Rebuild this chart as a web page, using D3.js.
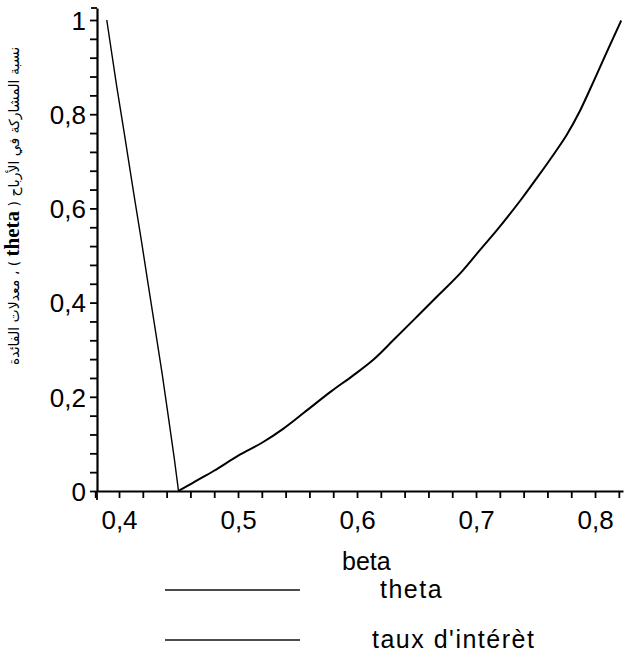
<!DOCTYPE html>
<html>
<head>
<meta charset="utf-8">
<script src="https://cdn.jsdelivr.net/npm/d3@7"></script>
<style>
  html, body { margin: 0; padding: 0; background: #fff; }
  svg { display: block; }
  .tick text { font-family: "Liberation Sans", Arial, sans-serif; }
</style>
</head>
<body>
<svg id="chart" width="634" height="656"></svg>
<script>
// theta (participation ratio) against beta
const thetaBeta = [0.3897, 0.3980, 0.4044, 0.4125, 0.4189, 0.4241, 0.4305, 0.4363, 0.4415, 0.4464, 0.4500];
const thetaVals = [1.000, 0.860, 0.760, 0.630, 0.530, 0.445, 0.342, 0.248, 0.157, 0.070, 0.0];

// interest rate against beta
const rateBeta = [0.4500, 0.4624, 0.4798, 0.5002, 0.5205, 0.5379, 0.5553, 0.5785, 0.5960, 0.6134,
                  0.6308, 0.6511, 0.6685, 0.6888, 0.7034, 0.7179, 0.7382, 0.7527, 0.7672, 0.7759,
                  0.7875, 0.7992, 0.8108, 0.8220];
const rateVals = [0.000, 0.018, 0.043, 0.075, 0.103, 0.132, 0.166, 0.212, 0.244, 0.278,
                  0.321, 0.372, 0.416, 0.468, 0.512, 0.555, 0.620, 0.670, 0.722, 0.755,
                  0.808, 0.872, 0.937, 0.999];

// axis ticks
const xTicks = d3.range(19, 42).map(i => i / 50);      // 0.38 .. 0.82 every 0.02
const xLabels = ["0,4", "0,5", "0,6", "0,7", "0,8"];
const yTicks = d3.range(0, 26).map(i => i / 25);       // 0 .. 1 every 0.04
const yLabels = ["0", "0,2", "0,4", "0,6", "0,8", "1"];

const seriesNames = ["theta", "taux d'intérèt"];
const xTitle = "beta";
const yTitleA = "نسبة المشاركة في الأرباح ( ";
const yTitleB = "theta";
const yTitleC = " ) ، معدلات الفائدة";

const svg = d3.select("#chart");

const x = d3.scaleLinear().domain([0.3815, 0.8235]).range([97, 623]);
const y = d3.scaleLinear().domain([0, 1.0255]).range([491, 8]);

const fontSans = "'Liberation Sans', Arial, sans-serif";

// x axis
const xAxis = d3.axisBottom(x)
  .tickValues(xTicks)
  .tickSize(7)
  .tickSizeOuter(0)
  .tickPadding(12)
  .tickFormat(d => {
    const k = Math.round(d * 10);
    return Math.abs(d * 10 - k) < 1e-6 ? xLabels[k - 4] : "";
  });

const gx = svg.append("g").attr("transform", `translate(0,${y(0)})`).call(xAxis);
gx.select(".domain").attr("stroke", "#000").attr("stroke-width", 2.2);
gx.selectAll(".tick line").attr("stroke", "#000").attr("stroke-width", 1.8);
gx.selectAll(".tick text")
  .attr("font-size", 26).attr("fill", "#000")
  .attr("dy", "0.74em");

// y axis
const yAxis = d3.axisLeft(y)
  .tickValues(yTicks)
  .tickSize(7)
  .tickSizeOuter(0)
  .tickPadding(4)
  .tickFormat((d, i) => (i % 5 === 0 ? yLabels[i / 5] : ""));

const gy = svg.append("g").attr("transform", `translate(${x(0.3815)},0)`).call(yAxis);
gy.select(".domain").attr("stroke", "#000").attr("stroke-width", 2.2);
gy.selectAll(".tick line").attr("stroke", "#000").attr("stroke-width", 1.8);
gy.selectAll(".tick text")
  .attr("font-size", 26).attr("fill", "#000")
  .attr("dy", "0.36em")
  .attr("x", -11);

// small hooks closing the axes
gy.append("line")
  .attr("x1", -6).attr("x2", 0)
  .attr("y1", y.range()[1]).attr("y2", y.range()[1])
  .attr("stroke", "#000").attr("stroke-width", 1.8);
gx.append("line")
  .attr("x1", x.range()[0]).attr("x2", x.range()[0])
  .attr("y1", 0).attr("y2", 9)
  .attr("stroke", "#000").attr("stroke-width", 1.8);

// curves
const line = d3.line().x(d => x(d[0])).y(d => y(d[1])).curve(d3.curveMonotoneX);
const lineTheta = d3.line().x(d => x(d[0])).y(d => y(d[1])).curve(d3.curveLinear);

svg.append("path")
  .datum(thetaBeta.map((b, i) => [b, thetaVals[i]]))
  .attr("d", lineTheta)
  .attr("fill", "none").attr("stroke", "#000").attr("stroke-width", 1.4);

svg.append("path")
  .datum(rateBeta.map((b, i) => [b, rateVals[i]]))
  .attr("d", line)
  .attr("fill", "none").attr("stroke", "#000").attr("stroke-width", 2);

// x title
svg.append("text")
  .attr("x", 342).attr("y", 570)
  .attr("font-family", fontSans).attr("font-size", 25)
  .text(xTitle);

// legend
const legend = svg.append("g");
const legendY = [590, 640];
const legendTextX = [380, 372];
seriesNames.forEach((name, i) => {
  legend.append("line")
    .attr("x1", 165).attr("x2", 300)
    .attr("y1", legendY[i]).attr("y2", legendY[i])
    .attr("stroke", "#111").attr("stroke-width", 1.5);
  legend.append("text")
    .attr("x", legendTextX[i]).attr("y", legendY[i] + 8)
    .attr("font-family", fontSans).attr("font-size", 25)
    .attr("letter-spacing", 1.5)
    .text(name);
});

// rotated y title (Arabic with bold serif "theta")
const yt = svg.append("text")
  .attr("transform", "translate(19,206) rotate(-90)")
  .attr("text-anchor", "middle")
  .attr("direction", "rtl")
  .attr("font-family", "'DejaVu Sans', 'Noto Sans', sans-serif")
  .attr("font-size", 14);
yt.append("tspan").text(yTitleA);
yt.append("tspan")
  .attr("font-family", "'Liberation Serif', 'DejaVu Serif', serif")
  .attr("font-weight", "bold")
  .attr("font-size", 21)
  .text(yTitleB);
yt.append("tspan").text(yTitleC);
</script>
</body>
</html>
